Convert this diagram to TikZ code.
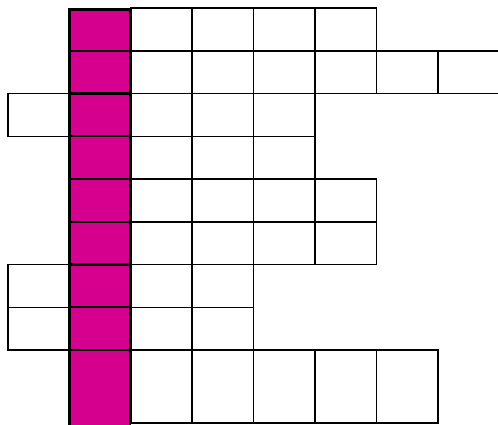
\documentclass[tikz,border=0pt]{standalone}
\definecolor{mag}{RGB}{214,0,143}
\begin{document}
\begin{tikzpicture}[x=1pt,y=-1pt,
  cell/.style={draw=black,line width=1.5pt},
  mcell/.style={fill=mag,draw=black,line width=2.4pt}]
\useasboundingbox (0,0) rectangle (498,424);
\clip (0,0) rectangle (498,424);
% white cells
\foreach \j/\a/\b in {0/2/5,1/2/7,2/2/4,3/2/4,4/2/5,5/2/5,6/2/3,7/2/3,8/2/6,2/0/0,6/0/0,7/0/0}{
  \foreach \i in {\a,...,\b}{
    \pgfmathsetmacro\xa{8+61.4*\i}
    \pgfmathsetmacro\xb{8+61.4*(\i+1)}
    \pgfmathsetmacro\ya{8+42.75*\j}
    \pgfmathsetmacro\yb{\j==8 ? 423 : 8+42.75*(\j+1)}
    \draw[cell] (\xa,\ya) rectangle (\xb,\yb);
  }
}
% magenta column
\foreach \j in {0,...,8}{
  \pgfmathsetmacro\ya{\j==0 ? 9.5 : 8+42.75*\j}
  \pgfmathsetmacro\yb{\j==8 ? 426 : 8+42.75*(\j+1)}
  \draw[mcell] (69.6,\ya) rectangle (130.2,\yb);
}
\end{tikzpicture}
\end{document}
